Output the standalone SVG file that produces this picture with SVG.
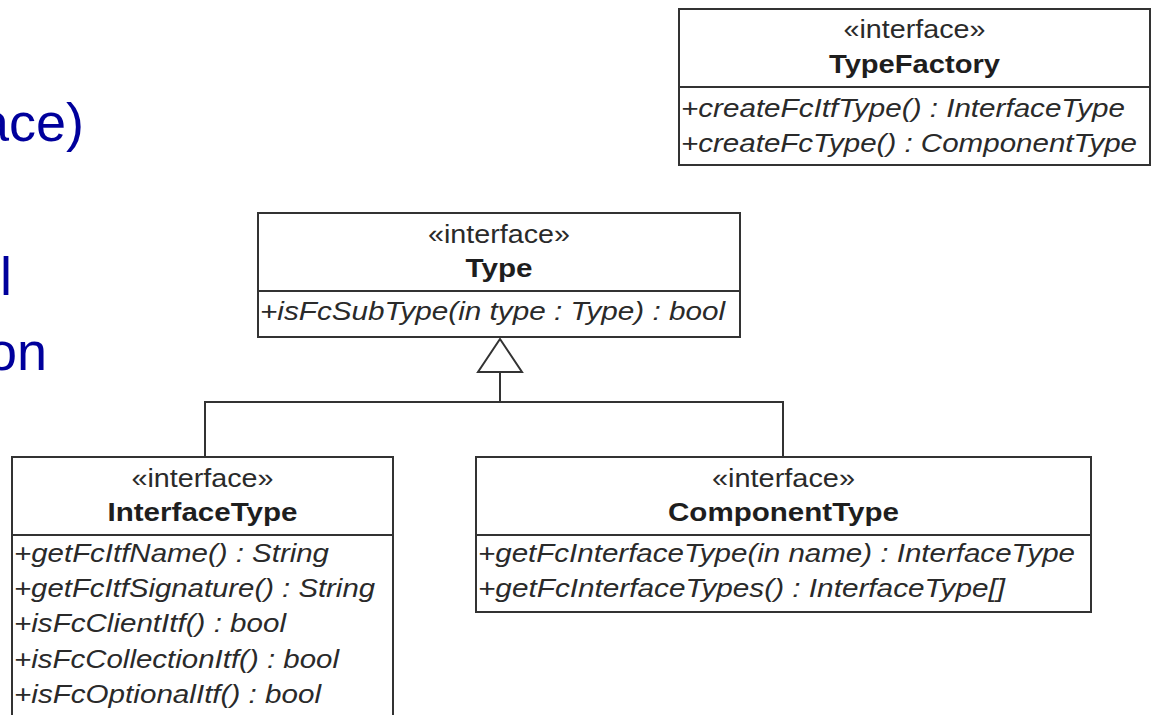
<svg xmlns="http://www.w3.org/2000/svg" width="1151" height="715" viewBox="0 0 1151 715">
  <style>
    .box { fill: #ffffff; stroke: #333333; stroke-width: 2; }
    .div { stroke: #333333; stroke-width: 2; fill: none; }
    .st { font-family: "Liberation Sans", Arial, sans-serif; font-size: 26px; fill: #2a2a2a; text-anchor: middle; }
    .nm { font-family: "Liberation Sans", Arial, sans-serif; font-size: 26px; font-weight: bold; fill: #1e1e1e; text-anchor: middle; }
    .op { font-family: "Liberation Sans", Arial, sans-serif; font-size: 26px; font-style: italic; fill: #2a2a2a; }
    .slide { font-family: "Liberation Sans", Arial, sans-serif; font-size: 54px; fill: #00009c; }
    .conn { stroke: #333333; stroke-width: 2; fill: none; }
  </style>
  <defs>
    <marker id="gen" viewBox="0 0 46 34" refX="23" refY="1" markerWidth="46" markerHeight="34" markerUnits="userSpaceOnUse" orient="auto-start-reverse">
      <path d="M23 1 L45 33 L1 33 Z" fill="#ffffff" stroke="#333333" stroke-width="2"/>
    </marker>
  </defs>

  <rect width="1151" height="715" fill="#ffffff"/>

  <!-- slide text fragments at the left edge -->
  <text class="slide" x="84" y="141" text-anchor="end">ace)</text>
  <text class="slide" x="0" y="295">l</text>
  <text class="slide" x="47" y="370" text-anchor="end">on</text>

  <!-- generalization connectors -->
  <g id="connectors">
    <path class="conn" d="M205 457 V402 H783 V457"/>
    <path class="conn" d="M500 402 V372"/>
    <path d="M500 339 L522 372 L478 372 Z" fill="#ffffff" stroke="#333333" stroke-width="2"/>
  </g>

  <g id="TypeFactory">
    <rect class="box" x="679" y="9" width="471" height="156"/>
    <line class="div" x1="679" y1="87" x2="1150" y2="87"/>
    <text class="st" x="914.5" y="38" textLength="142" lengthAdjust="spacingAndGlyphs">«interface»</text>
    <text class="nm" x="914.5" y="73" textLength="171" lengthAdjust="spacingAndGlyphs">TypeFactory</text>
    <text class="op" x="681" y="117" textLength="444" lengthAdjust="spacingAndGlyphs">+createFcItfType() : InterfaceType</text>
    <text class="op" x="681" y="152" textLength="456" lengthAdjust="spacingAndGlyphs">+createFcType() : ComponentType</text>
  </g>

  <g id="Type">
    <rect class="box" x="258" y="213" width="482" height="124"/>
    <line class="div" x1="258" y1="291" x2="740" y2="291"/>
    <text class="st" x="499" y="243" textLength="142" lengthAdjust="spacingAndGlyphs">«interface»</text>
    <text class="nm" x="499" y="277" textLength="67" lengthAdjust="spacingAndGlyphs">Type</text>
    <text class="op" x="260" y="320" textLength="465" lengthAdjust="spacingAndGlyphs">+isFcSubType(in type : Type) : bool</text>
  </g>

  <g id="InterfaceType">
    <rect class="box" x="12" y="457" width="381" height="270"/>
    <line class="div" x1="12" y1="535" x2="393" y2="535"/>
    <text class="st" x="202.5" y="487" textLength="142" lengthAdjust="spacingAndGlyphs">«interface»</text>
    <text class="nm" x="202.5" y="521" textLength="190" lengthAdjust="spacingAndGlyphs">InterfaceType</text>
    <text class="op" x="14" y="562" textLength="315" lengthAdjust="spacingAndGlyphs">+getFcItfName() : String</text>
    <text class="op" x="14" y="597" textLength="361" lengthAdjust="spacingAndGlyphs">+getFcItfSignature() : String</text>
    <text class="op" x="14" y="632" textLength="272" lengthAdjust="spacingAndGlyphs">+isFcClientItf() : bool</text>
    <text class="op" x="14" y="668" textLength="325" lengthAdjust="spacingAndGlyphs">+isFcCollectionItf() : bool</text>
    <text class="op" x="14" y="703" textLength="307" lengthAdjust="spacingAndGlyphs">+isFcOptionalItf() : bool</text>
  </g>

  <g id="ComponentType">
    <rect class="box" x="476" y="457" width="615" height="155"/>
    <line class="div" x1="476" y1="535" x2="1091" y2="535"/>
    <text class="st" x="783.5" y="487" textLength="143" lengthAdjust="spacingAndGlyphs">«interface»</text>
    <text class="nm" x="783.5" y="521" textLength="231" lengthAdjust="spacingAndGlyphs">ComponentType</text>
    <text class="op" x="478" y="562" textLength="597" lengthAdjust="spacingAndGlyphs">+getFcInterfaceType(in name) : InterfaceType</text>
    <text class="op" x="478" y="597" textLength="527" lengthAdjust="spacingAndGlyphs">+getFcInterfaceTypes() : InterfaceType[]</text>
  </g>
</svg>
